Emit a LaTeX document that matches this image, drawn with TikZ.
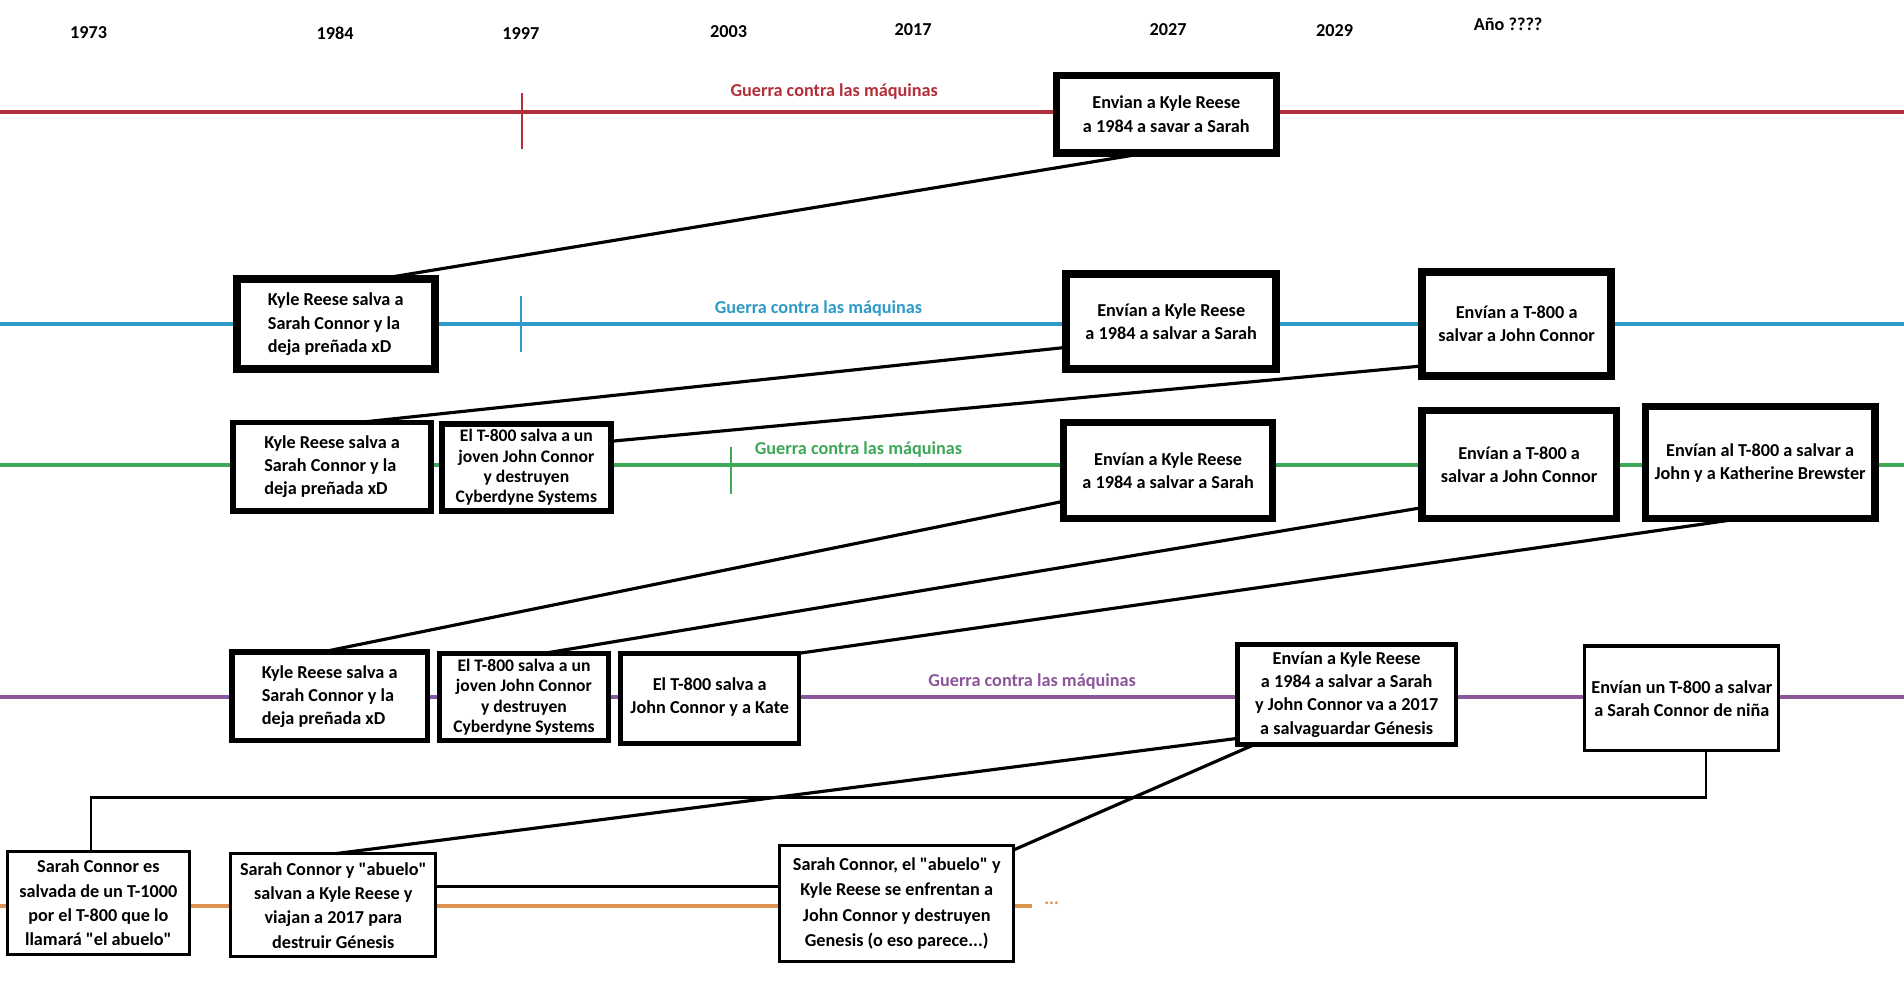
\documentclass[tikz,border=0pt]{standalone}
\usepackage{fontspec}
\setmainfont{Carlito}[Ligatures=TeXOff]
\usetikzlibrary{calc}
\definecolor{cred}{RGB}{180,46,58}
\definecolor{cblue}{RGB}{46,154,200}
\definecolor{cgreen}{RGB}{60,168,88}
\definecolor{cpurple}{RGB}{140,86,155}
\definecolor{corange}{RGB}{224,146,80}
\newcommand{\evbox}[8]{%
  \node[evb, line width=#6, #7, minimum width={#4-#2}, minimum height={#5-#3}]
    (#1) at ({(#2+#4)/2},{(#3+#5)/2}) {#8};}
\begin{document}
\begin{tikzpicture}[x=1pt,y=-1pt,
  font={\fontsize{15}{19}\selectfont\bfseries},
  evb/.style={draw=black, fill=white, inner sep=0pt, outer sep=0pt},
  tight/.style={font={\fontsize{14.5}{16.8}\selectfont\bfseries}},
  loose/.style={font={\fontsize{15}{20}\selectfont\bfseries}},
  looser/.style={font={\fontsize{15}{21}\selectfont\bfseries}},
  tl/.style={line width=3pt},
  tk/.style={line width=2pt},
  con/.style={draw=black, line width=2.6pt},
  lab/.style={inner sep=0pt},
  yr/.style={inner sep=0pt, text=black}]
\useasboundingbox (0,0) rectangle (1568,810.4);
\fill[white] (0,0) rectangle (1568,810.4);

% years
\node[yr] (y1973) at (73,27) {1973};
\node[yr] (y1984) at (276,27) {1984};
\node[yr] (y1997) at (429,28) {1997};
\node[yr] (y2003) at (600,26) {2003};
\node[yr] (y2017) at (752,24) {2017};
\node[yr] (y2027) at (962,24) {2027};
\node[yr] (y2029) at (1099,25) {2029};
\node[yr] (yano) at (1242,20) {Año ????};

% timelines
\draw[tl, cred] (0,92) -- (1568,92);
\draw[tk, cred] (430,77) -- (430,123);
\draw[tl, cblue] (0,267) -- (1568,267);
\draw[tk, cblue] (429,244) -- (429,290);
\draw[tl, cgreen] (0,383) -- (1568,383);
\draw[tk, cgreen] (602,368) -- (602,407);
\draw[tl, cpurple] (0,574) -- (1568,574);
\draw[tl, corange] (0,746) -- (850,746);
\node[lab, text=corange] (dots) at (866,744) {...};

% labels
\node[lab, text=cred] (g1) at (687,75) {Guerra contra las máquinas};
\node[lab, text=cblue] (g2) at (674,254) {Guerra contra las máquinas};
\node[lab, text=cgreen] (g3) at (707,370) {Guerra contra las máquinas};
\node[lab, text=cpurple] (g4) at (850,561) {Guerra contra las máquinas};

% row 1
\evbox{r1a}{870}{62}{1051}{126}{6pt}{align=center}{Envian a Kyle Reese\\a 1984 a savar a Sarah}
% row 2
\evbox{r2a}{195}{230}{358}{304}{6.5pt}{align=left}{Kyle Reese salva a\\Sarah Connor y la\\deja preñada xD}
\evbox{r2b}{878}{226}{1051}{304}{6.5pt}{align=center}{Envían a Kyle Reese\\a 1984 a salvar a Sarah}
\evbox{r2c}{1171}{224}{1327}{310}{6.5pt}{align=center}{Envían a T-800 a\\salvar a John Connor}
% row 3
\evbox{r3a}{192}{348}{355}{421}{4.5pt}{align=left}{Kyle Reese salva a\\Sarah Connor y la\\deja preñada xD}
\evbox{r3b}{364}{349}{503}{421}{4.5pt}{align=center, tight}{El T-800 salva a un\\joven John Connor\\y destruyen\\Cyberdyne Systems}
\evbox{r3c}{876}{348}{1048}{427}{6pt}{align=center}{Envían a Kyle Reese\\a 1984 a salvar a Sarah}
\evbox{r3d}{1171}{338}{1331}{427}{6pt}{align=center}{Envían a T-800 a\\salvar a John Connor}
\evbox{r3e}{1355}{335}{1544}{427}{6pt}{align=center}{Envían al T-800 a salvar a\\John y a Katherine Brewster}
% row 4
\evbox{r4a}{191}{537}{352}{610}{4.5pt}{align=left}{Kyle Reese salva a\\Sarah Connor y la\\deja preñada xD}
\evbox{r4b}{362}{538}{501}{610}{4pt}{align=center, tight}{El T-800 salva a un\\joven John Connor\\y destruyen\\Cyberdyne Systems}
\evbox{r4c}{511}{538}{658}{612}{4pt}{align=center, text depth=4pt}{El T-800 salva a\\John Connor y a Kate}
\evbox{r4d}{1019}{531}{1199}{613}{4pt}{align=center}{Envían a Kyle Reese\\a 1984 a salvar a Sarah\\y John Connor va a 2017\\a salvaguardar Génesis}
\evbox{r4e}{1305}{532}{1465}{618}{2.5pt}{align=center}{Envían un T-800 a salvar\\a Sarah Connor de niña}
% row 5
\evbox{r5a}{6}{701}{156}{786}{2.5pt}{align=center, loose}{Sarah Connor es\\salvada de un T-1000\\por el T-800 que lo\\llamará "el abuelo"}
\evbox{r5b}{190}{703}{359}{788}{2.5pt}{align=center, loose}{Sarah Connor y "abuelo"\\salvan a Kyle Reese y\\viajan a 2017 para\\destruir Génesis}
\evbox{r5c}{642}{696}{835}{792}{2.5pt}{align=center, looser}{Sarah Connor, el "abuelo" y\\Kyle Reese se enfrentan a\\John Connor y destruyen\\Genesis (o eso parece...)}

% connectors
\draw[con] ($(r1a.south west)!0.41!(r1a.south east)$) -- ($(r2a.north west)!0.71!(r2a.north east)$);
\draw[con] ($(r2b.north west)!0.77!(r2b.south west)$) -- ($(r3a.north west)!0.63!(r3a.north east)$);
\draw[con] ($(r2c.north west)!0.90!(r2c.south west)$) -- ($(r3b.north east)!0.2!(r3b.south east)$);
\draw[con] ($(r3c.north west)!0.82!(r3c.south west)$) -- ($(r4a.north west)!0.46!(r4a.north east)$);
\draw[con] ($(r3d.north west)!0.90!(r3d.south west)$) -- ($(r4b.north west)!0.62!(r4b.north east)$);
\draw[con] ($(r3e.south west)!0.42!(r3e.south east)$) -- (r4c.north east);
\draw[con] ($(r4d.north west)!0.94!(r4d.south west)$) -- ($(r5b.north west)!0.51!(r5b.north east)$);
\draw[con] ($(r4d.south west)!0.08!(r4d.south east)$) -- ($(r5c.north east)!0.04!(r5c.south east)$);
\coordinate (elb) at (0,657);
\coordinate (s9) at ($(r4e.south west)!0.625!(r4e.south east)$);
\coordinate (e9) at ($(r5a.north west)!0.46!(r5a.north east)$);
\draw[con, line width=2.2pt] (s9) -- (s9 |- elb) -- (e9 |- elb) -- (e9);
\coordinate (h1) at ($(r5b.north east)!0.32!(r5b.south east)$);
\draw[con] (h1) -- (h1 -| r5c.west);
\end{tikzpicture}
\end{document}
